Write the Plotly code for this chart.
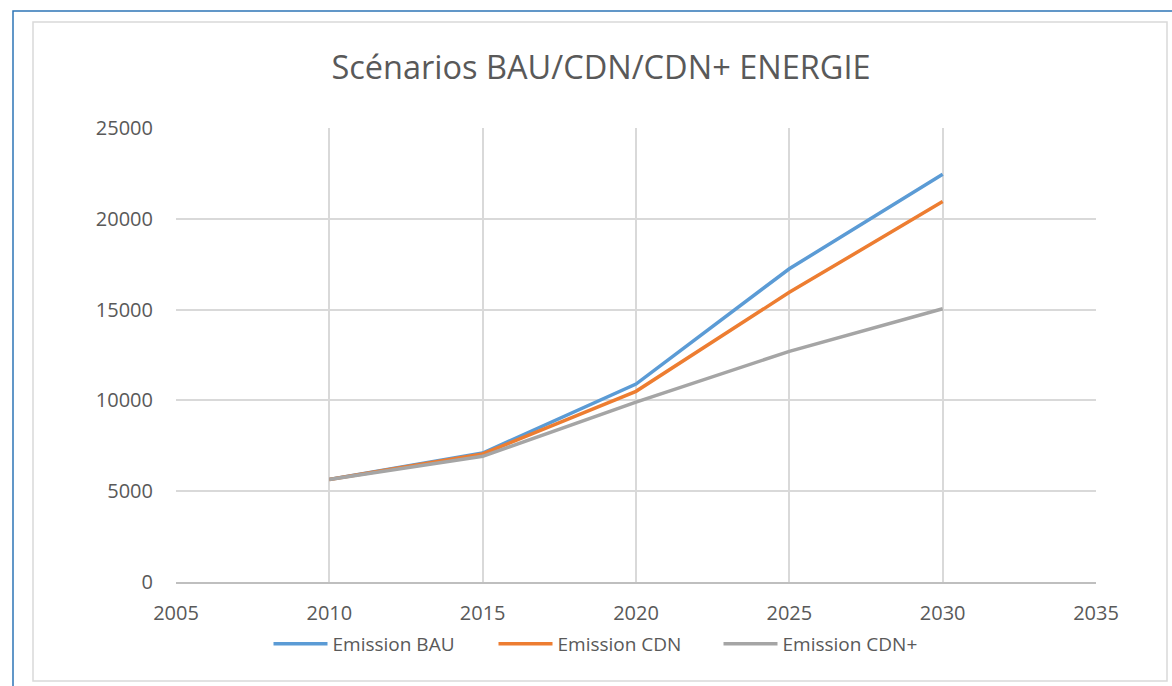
import plotly.graph_objects as go

# Data
years = [2010, 2015, 2020, 2025, 2030]
emission_bau = [5650, 7100, 10900, 17250, 22450]
emission_cdn = [5650, 7050, 10500, 15950, 20950]
emission_cdn_plus = [5650, 6920, 9900, 12700, 15050]
x_ticks = [2005, 2010, 2015, 2020, 2025, 2030, 2035]
y_ticks = [0, 5000, 10000, 15000, 20000, 25000]

series = [("Emission BAU", emission_bau, "#5b9bd5"),
          ("Emission CDN", emission_cdn, "#ed7d31"),
          ("Emission CDN+", emission_cdn_plus, "#a5a5a5")]

fig = go.Figure()
for name, vals, col in series:
    fig.add_trace(go.Scatter(x=years, y=vals, name=name, mode="lines",
                             line=dict(color=col, width=3.5)))

# plot area in pixels: left 176, right 1096, top 128, bottom 582
L, R, T, B = 176, 1096, 128, 582
W, H = 1172, 686
def px(x): return (x - L) / (R - L)
def py(y): return (B - y) / (B - T)

grey = "#d9d9d9"
font_col = "#595959"

fig.update_layout(
    width=W, height=H,
    margin=dict(l=L, r=W - R, t=T, b=H - B, autoexpand=False),
    paper_bgcolor="white", plot_bgcolor="white",
    font=dict(family="Open Sans", color=font_col, size=20),
    title=dict(text="Scénarios BAU/CDN/CDN+ ENERGIE", x=601 / W, xanchor="center",
               y=1 - 68 / H, yanchor="middle",
               font=dict(size=32.5, color=font_col)),
    showlegend=True,
    legend=dict(orientation="h", x=px(606), xanchor="center", y=py(644), yanchor="middle",
                font=dict(size=19, color=font_col), bgcolor="rgba(0,0,0,0)",
                itemwidth=54, entrywidth=156, entrywidthmode="pixels"),
    shapes=[
        # outer blue border
        dict(type="rect", xref="paper", yref="paper",
             x0=px(13), x1=px(1180), y0=py(700), y1=py(11),
             line=dict(color="#2e75b6", width=1.5), layer="below"),
        # chart area border
        dict(type="rect", xref="paper", yref="paper",
             x0=px(33), x1=px(1167), y0=py(681), y1=py(22),
             line=dict(color=grey, width=1.5), layer="below"),
    ],
)

fig.update_xaxes(range=[2005, 2035], tickvals=x_ticks, tickformat="d",
                 showgrid=True, gridcolor=grey, gridwidth=1.5,
                 showline=True, linecolor="#bfbfbf", linewidth=1.5,
                 zeroline=False, ticks="", ticklabelstandoff=12)
fig.update_yaxes(range=[0, 25000], tickvals=y_ticks, tickformat="d",
                 showgrid=True, gridcolor=grey, gridwidth=1.5,
                 showline=False, zeroline=False, ticks="", ticklabelstandoff=22)

# page body margin would shift the figure
fig.write_html("out.html", config={"displayModeBar": False},
               post_script="document.body.style.margin='0';")
